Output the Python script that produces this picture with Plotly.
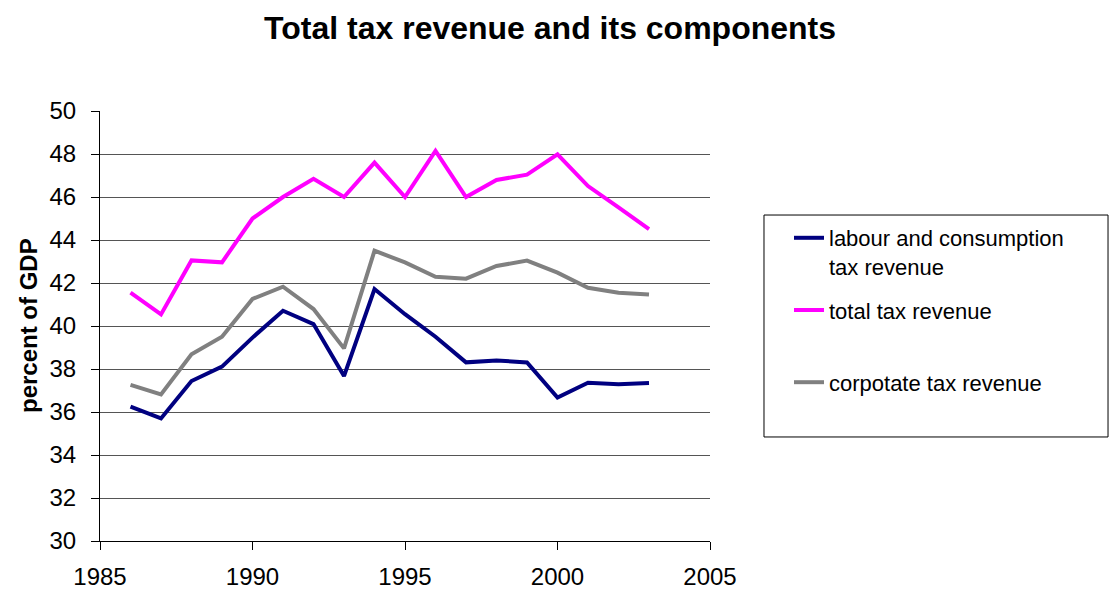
import plotly.graph_objects as go

# Tax revenue as percent of GDP, 1986-2003
years = list(range(1986, 2004))
labour_consumption = [36.25, 35.70, 37.44, 38.11, 39.46, 40.71, 40.09, 37.67, 41.72,
                      40.55, 39.50, 38.31, 38.40, 38.30, 36.67, 37.36, 37.29, 37.35]
total_tax = [41.55, 40.54, 43.05, 42.96, 45.00, 46.00, 46.85, 46.00, 47.60,
             46.00, 48.15, 46.00, 46.79, 47.04, 47.98, 46.51, 45.52, 44.51]
corporate_tax = [37.26, 36.82, 38.68, 39.50, 41.26, 41.83, 40.79, 38.96, 43.50,
                 42.96, 42.29, 42.20, 42.79, 43.04, 42.48, 41.78, 41.55, 41.46]

series_names = ["labour and consumption<br>tax revenue",
                "total tax revenue<br> ",
                "corpotate tax revenue"]
series_colors = ["#000080", "#FF00FF", "#808080"]
series_values = [labour_consumption, total_tax, corporate_tax]

FONT = "Liberation Sans, Arial, sans-serif"

fig = go.Figure()
for i, (name, color, vals) in enumerate(zip(series_names, series_colors, series_values)):
    fig.add_trace(go.Scatter(
        x=years, y=vals, name=name, mode="lines",
        line=dict(color=color, width=4),
        legendgroup=f"g{i}",
    ))

fig.update_layout(
    width=1109, height=590,
    margin=dict(l=100, r=399, t=111, b=49, autoexpand=False),
    paper_bgcolor="white", plot_bgcolor="white",
    font=dict(family=FONT, color="black", size=22),
    title=dict(text="<b>Total tax revenue and its components</b>",
               x=0.496, xanchor="center", y=0.953, yanchor="middle",
               font=dict(family=FONT, size=32, color="black")),
    showlegend=True,
    legend=dict(x=1.1295, xanchor="left", y=0.7535, yanchor="top",
                borderwidth=0, bgcolor="rgba(0,0,0,0)",
                font=dict(family=FONT, size=22, color="black"),
                valign="top", tracegroupgap=12, traceorder="grouped"),
)

# legend frame
fig.add_shape(type="rect", xref="paper", yref="paper",
              x0=1.0885, x1=1.6525, y0=0.2419, y1=0.7581,
              line=dict(color="black", width=1), fillcolor="rgba(0,0,0,0)",
              layer="below")

fig.update_xaxes(range=[1985, 2005], tickmode="linear", tick0=1985, dtick=5,
                 showgrid=False, zeroline=False, automargin=False,
                 showline=True, linecolor="black", linewidth=1,
                 ticks="outside", ticklen=8, tickcolor="black",
                 ticklabelstandoff=6, tickfont=dict(size=24))
fig.update_yaxes(range=[30, 50], tickmode="linear", tick0=30, dtick=2,
                 showgrid=True, gridcolor="#555555", gridwidth=1, zeroline=False,
                 automargin=False,
                 showline=True, linecolor="black", linewidth=1,
                 ticks="outside", ticklen=8, tickcolor="black",
                 ticklabelstandoff=10, tickfont=dict(size=24))

fig.add_annotation(text="<b>percent of GDP</b>", xref="paper", yref="paper",
                   x=(28 - 100) / 610, y=0.5, xanchor="center", yanchor="middle",
                   textangle=-90, showarrow=False,
                   font=dict(family=FONT, size=24, color="black"))

fig.write_html("out.html")
